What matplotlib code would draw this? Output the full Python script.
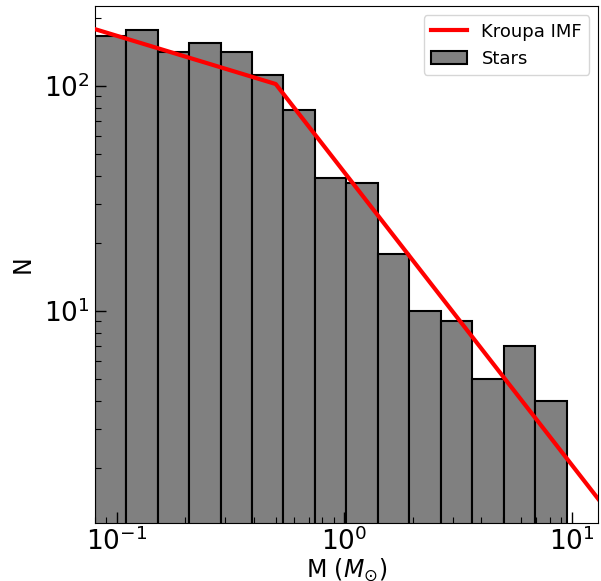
import numpy as np
import matplotlib
matplotlib.use('Agg')
import matplotlib.pyplot as plt

# star counts per logarithmic mass bin
n_bins = 15
m_lo, m_hi = 0.08, 9.5
counts = np.array([167, 177, 141, 156, 142, 112, 78, 39, 37, 18, 10, 9, 5, 7, 4])

# Kroupa IMF (dN/dlogM), broken power law with the knee at 0.5 Msun
kroupa_m = np.array([0.08, 0.5, 14.0])
kroupa_n = np.array([179.0, 102.0, 1.34])

edges = np.logspace(np.log10(m_lo), np.log10(m_hi), n_bins + 1)

fs = 17   # label fontsize
tfs = 19  # tick fontsize

fig = plt.figure(figsize=(6.01, 5.81), dpi=100)
ax = fig.add_axes([0.1576, 0.1003, 0.9955 - 0.1576, 0.9892 - 0.1003])

bars = ax.bar(edges[:-1], counts, width=np.diff(edges), align='edge',
    color='gray', edgecolor='black', linewidth=1.5, label='Stars')
ln, = ax.plot(kroupa_m, kroupa_n, color='red', lw=3, label='Kroupa IMF',
    zorder=3)

ax.set_xscale('log')
ax.set_yscale('log')
ax.set_xlim(0.08, 13.1)
ax.set_ylim(1.146, 226)

ax.set_xlabel(r'M ($M_{\odot}$)', fontsize=fs, labelpad=0)
ax.set_ylabel('N', fontsize=fs, labelpad=7)
ax.tick_params(which='both', direction='in', labelsize=tfs)
ax.tick_params(which='major', length=8, width=1)
ax.tick_params(which='minor', length=4, width=0.8)

ax.legend(handles=[ln, bars], loc='upper right', fontsize=13)

fig.savefig('out.png', dpi=100)
